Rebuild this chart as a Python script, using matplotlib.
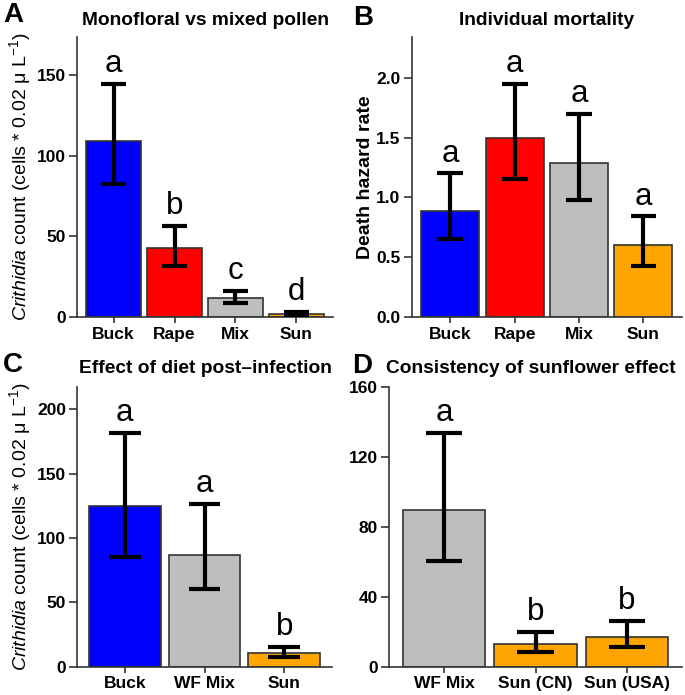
import numpy as np
import matplotlib
matplotlib.use("Agg")
import matplotlib.pyplot as plt

plt.rcParams['font.family'] = ['Liberation Sans', 'DejaVu Sans']
plt.rcParams['mathtext.fontset'] = 'custom'
plt.rcParams['mathtext.rm'] = 'Liberation Sans'
plt.rcParams['mathtext.it'] = 'Liberation Sans:italic'

# panel A: monofloral vs mixed pollen
a_cats = ["Buck", "Rape", "Mix", "Sun"]
a_mean = [109, 42.5, 12, 2]
a_low = [82.5, 31.5, 8.7, 1.5]
a_high = [144.5, 56.5, 16.2, 3]
a_sig = ["a", "b", "c", "d"]

# panel B: individual mortality
b_cats = ["Buck", "Rape", "Mix", "Sun"]
b_mean = [0.885, 1.50, 1.29, 0.605]
b_low = [0.65, 1.15, 0.975, 0.43]
b_high = [1.20, 1.95, 1.70, 0.84]
b_sig = ["a", "a", "a", "a"]

# panel C: diet post-infection
c_cats = ["Buck", "WF Mix", "Sun"]
c_mean = [125, 87, 10.5]
c_low = [85.5, 60, 7.3]
c_high = [181.5, 126.5, 15.5]
c_sig = ["a", "a", "b"]

# panel D: sunflower sources
d_cats = ["WF Mix", "Sun (CN)", "Sun (USA)"]
d_mean = [90, 13, 17]
d_low = [60.7, 8.6, 11]
d_high = [134, 20, 26.3]
d_sig = ["a", "b", "b"]

cols = {"Buck": "#0000FF", "Rape": "#FF0000", "Mix": "#BEBEBE", "WF Mix": "#BEBEBE",
        "Sun": "#FFA500", "Sun (CN)": "#FFA500", "Sun (USA)": "#FFA500"}

W, H = 685, 695
fig = plt.figure(figsize=(W / 100, H / 100), dpi=100)


def box(l, t, r, b):
    return [l / W, 1 - b / H, (r - l) / W, (b - t) / H]


def panel(pos, cats, mean, low, high, sig, ylim, yticks, yticklabels):
    ax = fig.add_axes(pos)
    x = np.arange(len(cats))
    ax.bar(x, mean, width=0.9, color=[cols[c] for c in cats],
           edgecolor="#333333", linewidth=1.2, zorder=2)
    ax.vlines(x, low, high, color="black", lw=3, zorder=3)
    ax.hlines(low, x - 0.2, x + 0.2, color="black", lw=3, zorder=3)
    ax.hlines(high, x - 0.2, x + 0.2, color="black", lw=3, zorder=3)
    for xi, hi, s in zip(x, high, sig):
        ax.annotate(s, xy=(xi, hi), xytext=(0, 8.5), textcoords="offset points",
                    ha="center", va="baseline", fontsize=22.5)
    ax.set_xlim(-0.6, len(cats) - 0.4)
    ax.set_ylim(*ylim)
    ax.set_xticks(x)
    ax.set_xticklabels(cats, fontsize=12.5, fontweight="bold")
    ax.set_yticks(yticks)
    ax.set_yticklabels(yticklabels, fontsize=12.5, fontweight="bold")
    ax.tick_params(axis="y", length=6, width=1.2, pad=2, color="#333333")
    ax.tick_params(axis="x", length=4, width=1.2, pad=3, color="#333333")
    for s in ["top", "right"]:
        ax.spines[s].set_visible(False)
    for s in ["left", "bottom"]:
        ax.spines[s].set_linewidth(1.2)
        ax.spines[s].set_color("#333333")
    return ax


panel(box(77, 37, 333, 317), a_cats, a_mean, a_low, a_high, a_sig,
      (0, 173.6), [0, 50, 100, 150], ["0", "50", "100", "150"])
panel(box(411.7, 37, 682, 317), b_cats, b_mean, b_low, b_high, b_sig,
      (0, 2.34), [0, 0.5, 1.0, 1.5, 2.0], ["0.0", "0.5", "1.0", "1.5", "2.0"])
panel(box(77, 386.7, 332, 666.7), c_cats, c_mean, c_low, c_high, c_sig,
      (0, 217.6), [0, 50, 100, 150, 200], ["0", "50", "100", "150", "200"])
panel(box(389, 387.3, 682, 666.7), d_cats, d_mean, d_low, d_high, d_sig,
      (0, 160), [0, 40, 80, 120, 160], ["0", "40", "80", "120", "160"])

# titles
fig.text(205 / W, 1 - 25 / H, "Monofloral vs mixed pollen", ha="center", va="baseline",
         fontsize=13.8, fontweight="bold")
fig.text(547 / W, 1 - 25 / H, "Individual mortality", ha="center", va="baseline",
         fontsize=13.8, fontweight="bold")
fig.text(205 / W, 1 - 373 / H, "Effect of diet post\u2013infection", ha="center", va="baseline",
         fontsize=13.8, fontweight="bold")
fig.text(531 / W, 1 - 373 / H, "Consistency of sunflower effect", ha="center", va="baseline",
         fontsize=13.8, fontweight="bold")

# panel letters
for lx, ly, lab in [(3, 22, "A"), (353, 25, "B"), (3, 372, "C"), (352, 373, "D")]:
    fig.text(lx / W, 1 - ly / H, lab, ha="left", va="baseline", fontsize=20, fontweight="bold")

# y labels
ylab = r"$\it{Crithidia}$ count (cells * 0.02 $\mathrm{\mu}$ L$^{-1}$)"
fig.text(20 / W, 1 - 177 / H, ylab, rotation=90, ha="center", va="center", fontsize=14)
fig.text(20 / W, 1 - 526.7 / H, ylab, rotation=90, ha="center", va="center", fontsize=14)
fig.text(366 / W, 1 - 177 / H, "Death hazard rate", rotation=90, ha="center", va="center",
         fontsize=14, fontweight="bold")

fig.savefig("out.png", dpi=100)
